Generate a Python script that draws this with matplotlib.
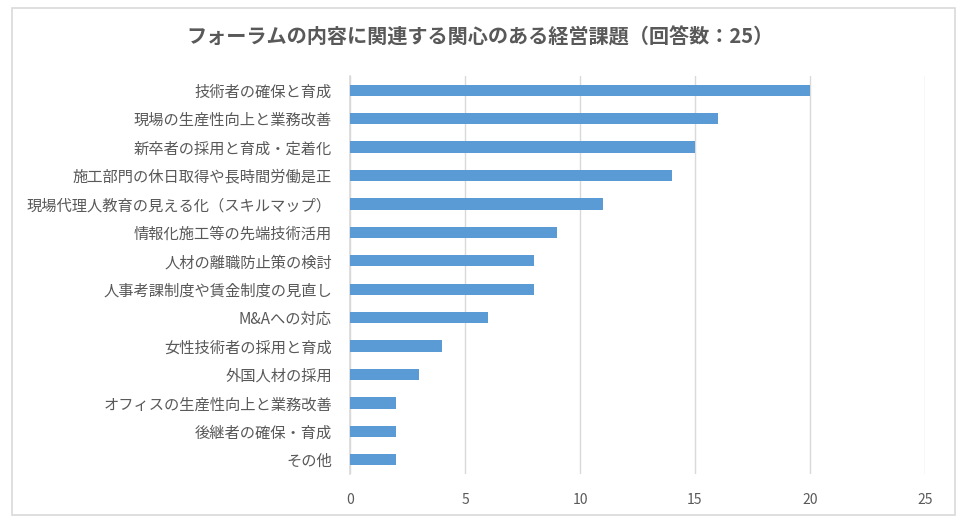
import matplotlib
matplotlib.use("Agg")
import numpy as np
from matplotlib import pyplot as plt
from matplotlib.patches import Rectangle

plt.rcParams['font.family'] = ['Noto Sans CJK JP', 'DejaVu Sans']

title = "フォーラムの内容に関連する関心のある経営課題（回答数：25）"
categories = [
    "技術者の確保と育成",
    "現場の生産性向上と業務改善",
    "新卒者の採用と育成・定着化",
    "施工部門の休日取得や長時間労働是正",
    "現場代理人教育の見える化（スキルマップ）",
    "情報化施工等の先端技術活用",
    "人材の離職防止策の検討",
    "人事考課制度や賃金制度の見直し",
    "M&Aへの対応",
    "女性技術者の採用と育成",
    "外国人材の採用",
    "オフィスの生産性向上と業務改善",
    "後継者の確保・育成",
    "その他",
]
counts = [20, 16, 15, 14, 11, 9, 8, 8, 6, 4, 3, 2, 2, 2]
xticks = [0, 5, 10, 15, 20, 25]

textColor = "#595959"
barColor = "#5B9BD5"
gridColor = "#D9D9D9"

fig = plt.figure(figsize=(9.6, 5.23), dpi=100)
# outer chart border
fig.patches.append(Rectangle((12/960, 1-515/523), 943/960, 507/523, transform=fig.transFigure,
                             fill=False, edgecolor=gridColor, linewidth=1.2))

ax = fig.add_axes([350/960, 1-474/523, 575/960, 398/523])
y = np.arange(len(categories))
ax.barh(y, counts, height=0.4, color=barColor, zorder=3)
ax.set_ylim(len(categories)-0.5, -0.5)
ax.set_xlim(0, 25)
ax.set_xticks(xticks)
ax.set_yticks(y)
ax.set_yticklabels(categories, fontsize=11, color=textColor)
ax.tick_params(axis='x', labelsize=10, colors=textColor, length=0, pad=14)
ax.tick_params(axis='y', length=0, pad=13)
ax.grid(axis='x', color=gridColor, linewidth=1, zorder=0)
for s in ['top', 'right', 'bottom']:
    ax.spines[s].set_visible(False)
ax.spines['left'].set_color(gridColor)
ax.spines['left'].set_linewidth(1.2)

fig.text(0.5, 1-37/523, title, ha='center', va='center', fontsize=14.5,
         fontweight='bold', color=textColor)

fig.savefig("out.png", dpi=100)
